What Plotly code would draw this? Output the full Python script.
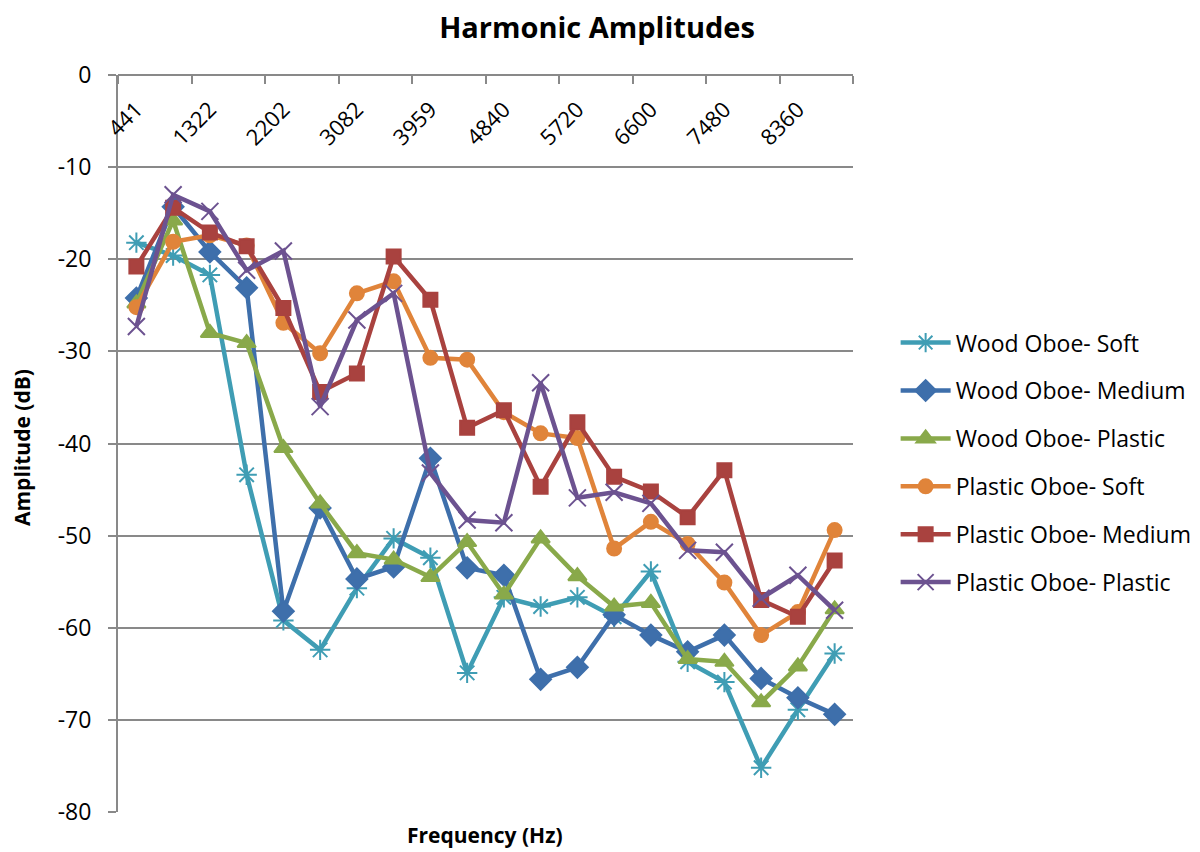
import plotly.graph_objects as go

freqs = ["441", "881", "1322", "1762", "2202", "2642", "3082", "3522", "3959", "4400",
         "4840", "5280", "5720", "6160", "6600", "7040", "7480", "7920", "8360", "8800"]

wood_soft = [-18.2, -19.6, -21.7, -43.4, -59.2, -62.4, -55.7, -50.3, -52.4, -64.9,
             -56.7, -57.7, -56.7, -58.8, -53.9, -63.7, -65.9, -75.2, -68.9, -62.8]
wood_medium = [-24.2, -14.3, -19.2, -23.1, -58.2, -47.0, -54.7, -53.4, -41.6, -53.5,
               -54.3, -65.6, -64.3, -58.6, -60.8, -62.6, -60.8, -65.5, -67.6, -69.4]
wood_plastic = [-24.8, -15.8, -28.0, -29.1, -40.5, -46.5, -51.9, -52.6, -54.5, -50.7,
                -56.4, -50.3, -54.4, -57.7, -57.3, -63.4, -63.7, -68.1, -64.2, -58.0]
plastic_soft = [-25.2, -18.1, -17.4, -18.5, -26.9, -30.2, -23.7, -22.4, -30.7, -30.9,
                -36.6, -38.9, -39.4, -51.4, -48.5, -50.9, -55.1, -60.8, -58.3, -49.4]
plastic_medium = [-20.8, -14.4, -17.1, -18.6, -25.3, -34.4, -32.4, -19.7, -24.4, -38.3,
                  -36.4, -44.7, -37.7, -43.6, -45.2, -48.0, -42.9, -57.0, -58.8, -52.7]
plastic_plastic = [-27.3, -13.0, -14.8, -21.2, -19.1, -36.0, -26.6, -23.7, -43.2, -48.3,
                   -48.6, -33.4, -45.9, -45.3, -46.5, -51.6, -51.8, -56.8, -54.3, -58.1]

y_ticks = [-80, -70, -60, -50, -40, -30, -20, -10, 0]
y_tick_text = ["-80", "-70", "-60", "-50", "-40", "-30", "-20", "-10", "0"]

series_names = ["Wood Oboe- Soft", "Wood Oboe- Medium", "Wood Oboe- Plastic",
                "Plastic Oboe- Soft", "Plastic Oboe- Medium", "Plastic Oboe- Plastic"]
series_values = [wood_soft, wood_medium, wood_plastic, plastic_soft, plastic_medium, plastic_plastic]
colors = ["#3F9DB4", "#3E6FAB", "#89A94A", "#E0843A", "#A9423F", "#6C5290"]
symbols = ["asterisk-open", "diamond", "triangle-up", "circle", "square", "x-thin-open"]
sizes = [17, 16, 16, 14, 14, 17]

idx = list(range(len(freqs)))
label_vals = idx[::2]
label_text = freqs[::2]
boundaries = [i - 0.5 for i in range(0, len(freqs) + 1, 2)]

fig = go.Figure()
for name, vals, col, sym, sz in zip(series_names, series_values, colors, symbols, sizes):
    fig.add_trace(go.Scatter(
        x=idx, y=vals, name=name, mode="lines+markers",
        line=dict(color=col, width=4.5),
        marker=dict(symbol=sym, size=sz, color=col, line=dict(color=col, width=2)),
        legendgroup=name,
    ))

font_family = "'Open Sans', Lato, sans-serif"
grid = "#898989"

W, H = 1192, 844  # page body adds an 8px offset

fig.update_layout(
    width=W, height=H,
    margin=dict(l=110, r=347, t=67, b=40, autoexpand=False),
    plot_bgcolor="white", paper_bgcolor="white",
    font=dict(family=font_family, size=22, color="black"),
    title=dict(text="<b>Harmonic Amplitudes</b>", x=(597 - 8) / W, xref="container", xanchor="center",
               y=1 - 20 / H, yref="container", yanchor="middle",
               font=dict(size=29, family=font_family, color="black")),
    showlegend=True,
    legend=dict(x=1.058, xanchor="left", y=0.666, yanchor="top",
                font=dict(size=23, family=font_family), tracegroupgap=15,
                bgcolor="rgba(0,0,0,0)", itemwidth=50),
    xaxis=dict(
        range=[-0.5, len(freqs) - 0.5], anchor="free", position=1, side="bottom",
        tickmode="array", tickvals=label_vals, ticktext=label_text, tickangle=-45,
        ticks="outside", ticklen=0, tickcolor=grid,
        ticklabelstandoff=12,
        minor=dict(tickmode="array", tickvals=boundaries, ticks="outside", ticklen=8,
                   tickcolor=grid, tickwidth=2, showgrid=False),
        showgrid=False, zeroline=False, showline=True, linecolor=grid, linewidth=2,
        tickfont=dict(size=22, family=font_family, color="black"),
    ),
    yaxis=dict(
        range=[-80, 0], tickmode="array", tickvals=y_ticks, ticktext=y_tick_text,
        showgrid=True, gridcolor=grid, gridwidth=2,
        zeroline=False, showline=True, linecolor=grid, linewidth=2,
        ticks="outside", ticklen=8, tickcolor=grid, tickwidth=2,
        ticklabelstandoff=12,
        tickfont=dict(size=23, family=font_family, color="black"),
    ),
    annotations=[
        dict(text="<b>Amplitude (dB)</b>", x=(22 - 118) / 735, y=(812 - 447) / 737,
             xref="paper", yref="paper",
             textangle=-90, showarrow=False, xanchor="center", yanchor="middle",
             font=dict(size=21, family=font_family, color="black")),
        dict(text="<b>Frequency (Hz)</b>", x=(485 - 118) / 735, y=(812 - 835) / 737,
             xref="paper", yref="paper",
             showarrow=False, xanchor="center", yanchor="middle",
             font=dict(size=21, family=font_family, color="black")),
    ],
)

fig.write_html("out.html")
